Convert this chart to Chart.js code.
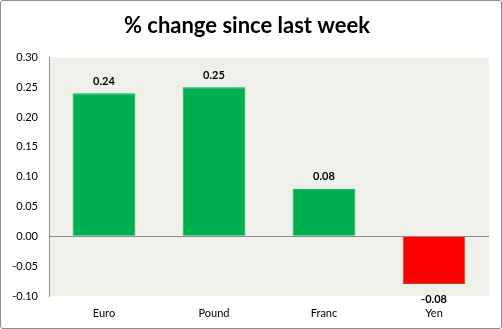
<!DOCTYPE html>
<html lang="en">
<head>
  <meta charset="UTF-8">
  <title>% change since last week</title>
  <script src="https://cdn.jsdelivr.net/npm/chart.js"></script>
  <style>
    html, body {
      margin: 0;
      padding: 0;
      background: #ffffff;
    }
    .frame {
      width: 500px;
      height: 327px;
      border: 1px solid #8c8c8c;
      border-radius: 3px;
      background: #ffffff;
      position: relative;
    }
  </style>
</head>
<body>
  <div class="frame">
    <canvas id="changeChart" width="500" height="327"></canvas>
  </div>

  <script>
    // Weekly currency moves
    const currencies = ['Euro', 'Pound', 'Franc', 'Yen'];
    const weeklyChange = [0.24, 0.25, 0.08, -0.08];
    const yTicks = [-0.10, -0.05, 0.00, 0.05, 0.10, 0.15, 0.20, 0.25, 0.30];

    const upColor = '#00b050';
    const downColor = '#ff0000';

    // Shade the plot area
    const plotBackground = {
      id: 'plotBackground',
      beforeDraw(chart) {
        const { ctx, chartArea: a } = chart;
        ctx.save();
        ctx.fillStyle = '#eff0e9';
        ctx.fillRect(a.left, a.top, a.right - a.left, a.bottom - a.top);
        ctx.restore();
      }
    };

    // Value labels above positive bars and below negative ones
    const valueLabels = {
      id: 'valueLabels',
      afterDatasetsDraw(chart) {
        const ctx = chart.ctx;
        const meta = chart.getDatasetMeta(0);
        ctx.save();
        ctx.font = 'bold 11px Lato, sans-serif';
        ctx.fillStyle = '#000000';
        ctx.textAlign = 'center';
        ctx.textBaseline = 'middle';
        meta.data.forEach((bar, i) => {
          const v = weeklyChange[i];
          const y = v >= 0 ? bar.y - 12 : bar.y + 15;
          ctx.fillText(v.toFixed(2), bar.x, y);
        });
        ctx.restore();
      }
    };

    const ctx = document.getElementById('changeChart').getContext('2d');
    new Chart(ctx, {
      type: 'bar',
      data: {
        labels: currencies,
        datasets: [{
          data: weeklyChange,
          backgroundColor: weeklyChange.map(v => v >= 0 ? upColor : downColor),
          borderColor: weeklyChange.map(v => v >= 0 ? '#00a84a' : '#a0522d'),
          borderWidth: 1,
          categoryPercentage: 1.0,
          barPercentage: 0.57
        }]
      },
      plugins: [plotBackground, valueLabels],
      options: {
        responsive: false,
        animation: false,
        layout: {
          padding: { top: 0, left: 4, right: 12, bottom: 0 }
        },
        plugins: {
          legend: { display: false },
          tooltip: { enabled: false },
          title: {
            display: true,
            text: '% change since last week',
            color: '#000000',
            font: { family: 'Lato, sans-serif', size: 22, weight: 'bold' },
            padding: { top: 12, bottom: 18 }
          }
        },
        scales: {
          x: {
            afterFit(scale) {
              scale.height = 32;
            },
            grid: { display: false, drawTicks: false },
            border: { display: false },
            ticks: {
              color: '#000000',
              font: { family: 'Lato, sans-serif', size: 11 },
              padding: 11
            }
          },
          y: {
            min: -0.10,
            max: 0.30,
            afterBuildTicks(scale) {
              scale.ticks = yTicks.map(v => ({ value: v }));
            },
            afterFit(scale) {
              scale.width = 44;
            },
            grid: {
              drawTicks: false,
              color: c => c.tick && Math.abs(c.tick.value) < 1e-9 ? '#8c8c8c' : 'rgba(0,0,0,0)'
            },
            border: { display: true, color: '#8c8c8c' },
            ticks: {
              color: '#000000',
              font: { family: 'Lato, sans-serif', size: 11 },
              padding: 11,
              callback: v => v.toFixed(2)
            }
          }
        }
      }
    });
  </script>
</body>
</html>
